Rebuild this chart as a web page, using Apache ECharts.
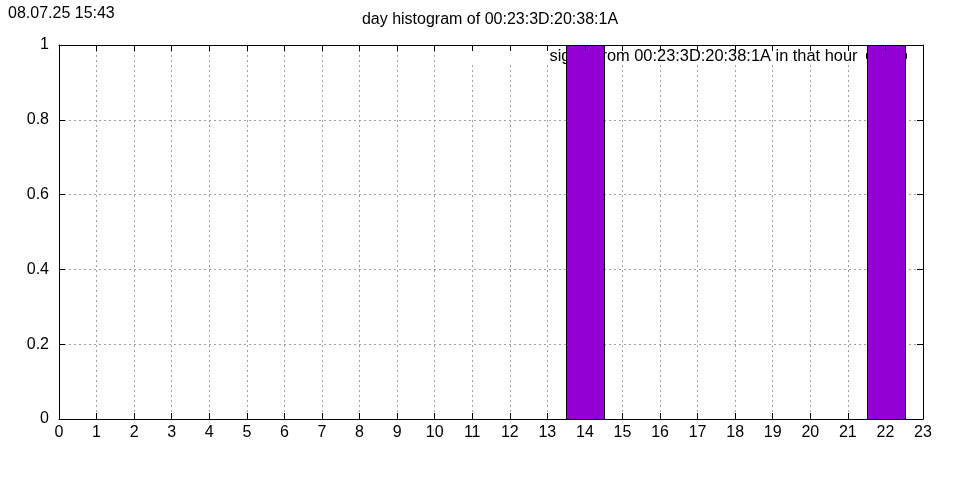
<!DOCTYPE html>
<html>
<head>
<meta charset="utf-8">
<script src="https://cdn.jsdelivr.net/npm/echarts@6/dist/echarts.min.js"></script>
<style>html,body{margin:0;padding:0;background:#fff}#c{width:960px;height:480px}</style>
</head>
<body>
<div id="c"></div>
<script>
const hours = [0,1,2,3,4,5,6,7,8,9,10,11,12,13,14,15,16,17,18,19,20,21,22,23];
const counts = [0,0,0,0,0,0,0,0,0,0,0,0,0,0,1,0,0,0,0,0,0,0,1,0];
const xTicks = {min: 0, max: 23, interval: 1};
const yTicks = {min: 0, max: 1, interval: 0.2};
const titleText = 'day histogram of 00:23:3D:20:38:1A';
const stampText = '08.07.25 15:43';
const seriesName = 'signal from 00:23:3D:20:38:1A in that hour';

const FONT = '"Liberation Sans", Arial, sans-serif';
const PURPLE = '#9400d3';
const chart = echarts.init(document.getElementById('c'), null, {renderer: 'canvas'});
const data = hours.map((h, i) => [h, counts[i]]);
const gridLine = {show: true, lineStyle: {color: '#a0a0a0', type: [2, 3], width: 1}};
const axisLine = {show: true, onZero: false, lineStyle: {color: '#000', width: 1}};
const tick = {show: true, inside: true, length: 6, lineStyle: {color: '#000'}};
chart.setOption({
  animation: false,
  backgroundColor: '#fff',
  graphic: [
    {type: 'text', left: 8, top: 6, style: {text: stampText, font: '16px ' + FONT, fill: '#000'}},
    {type: 'text', x: 490, y: 20, style: {text: titleText, font: '16px ' + FONT, fill: '#000', align: 'center', verticalAlign: 'middle'}}
  ],
  legend: {
    right: 38, top: 46, z: 1, align: 'right', orient: 'horizontal',
    backgroundColor: '#fff', padding: [2, 15, 1, 85],
    itemWidth: 40, itemHeight: 5, icon: 'rect',
    textStyle: {fontFamily: FONT, fontSize: 16.4, color: '#000', padding: [0, 4, 0, 0], lineHeight: 16},
    data: [{name: seriesName, itemStyle: {color: PURPLE, borderColor: '#000', borderWidth: 1}}]
  },
  grid: {left: 59, right: 37, top: 45, bottom: 61},
  xAxis: [
    {type: 'value', min: xTicks.min, max: xTicks.max, interval: xTicks.interval, position: 'bottom', z: 0,
     axisLine, axisTick: tick, splitLine: gridLine,
     axisLabel: {fontFamily: FONT, fontSize: 16, color: '#000', margin: 6}},
    {type: 'value', min: xTicks.min, max: xTicks.max, interval: xTicks.interval, position: 'top', z: 8,
     axisLine, axisTick: tick, splitLine: {show: false}, axisLabel: {show: false}}
  ],
  yAxis: [
    {type: 'value', min: yTicks.min, max: yTicks.max, interval: yTicks.interval, position: 'left', z: 0,
     axisLine, axisTick: tick, splitLine: gridLine,
     axisLabel: {fontFamily: FONT, fontSize: 16, color: '#000', margin: 10}},
    {type: 'value', min: yTicks.min, max: yTicks.max, interval: yTicks.interval, position: 'right', z: 8,
     axisLine, axisTick: tick, splitLine: {show: false}, axisLabel: {show: false}}
  ],
  series: [{
    type: 'custom', name: seriesName, z: 5, clip: true,
    xAxisIndex: 0, yAxisIndex: 0,
    itemStyle: {color: PURPLE, borderColor: '#000', borderWidth: 1},
    data: data,
    renderItem: function (params, api) {
      const x = api.value(0), v = api.value(1);
      if (!v) return null;
      const p0 = api.coord([x - 0.5, 0]);
      const p1 = api.coord([x + 0.5, v]);
      return {type: 'rect', shape: {x: Math.round(p0[0]) + 0.5, y: Math.round(p1[1]) + 0.5, width: Math.round(p1[0] - p0[0]), height: Math.round(p0[1] - p1[1])},
              style: {fill: PURPLE, stroke: '#000', lineWidth: 1}};
    }
  }]
});
</script>
</body>
</html>
